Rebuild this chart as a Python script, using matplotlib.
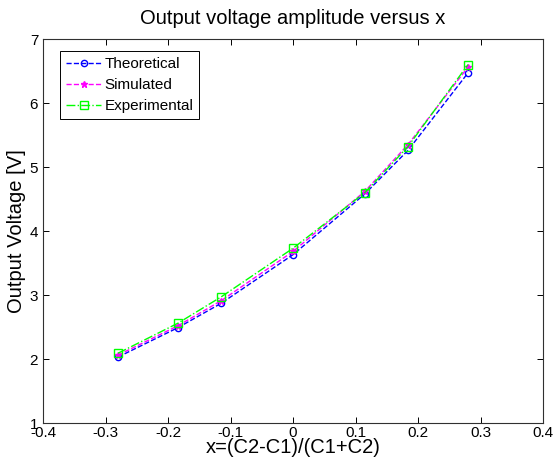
import matplotlib
matplotlib.use("Agg")
import matplotlib.pyplot as plt

# x = (C2-C1)/(C1+C2)
x_vals = [-0.28, -0.184, -0.115, 0.0, 0.115, 0.184, 0.28]
theoretical = [2.03, 2.49, 2.87, 3.63, 4.58, 5.26, 6.47]
simulated = [2.06, 2.52, 2.91, 3.68, 4.62, 5.35, 6.56]
experimental = [2.09, 2.56, 2.97, 3.73, 4.60, 5.32, 6.60]

x_ticks = [-0.4, -0.3, -0.2, -0.1, 0, 0.1, 0.2, 0.3, 0.4]
x_tick_labels = ["-0.4", "-0.3", "-0.2", "-0.1", "0", "0.1", "0.2", "0.3", "0.4"]
y_ticks = [1, 2, 3, 4, 5, 6, 7]

plt.rcParams['font.family'] = ['Liberation Sans', 'DejaVu Sans']

fig = plt.figure(figsize=(5.54, 4.65), dpi=100)
ax = fig.add_axes([43 / 554, 42 / 465, 500 / 554, 384 / 465])

ax.plot(x_vals, theoretical, color='#0000ff', linestyle='--', linewidth=1,
        marker='o', markersize=4.5, markerfacecolor='none', label='Theoretical')
ax.plot(x_vals, simulated, color='#ff00ff', linestyle='--', linewidth=1,
        marker='*', markersize=4.5, label='Simulated')
ax.plot(x_vals, experimental, color='#00ff00', linestyle='-.', linewidth=1,
        marker='s', markersize=5.5, markerfacecolor='none', label='Experimental')

ax.set_xlim(-0.4, 0.4)
ax.set_ylim(1, 7)
ax.set_xticks(x_ticks)
ax.set_xticklabels(x_tick_labels)
ax.set_yticks(y_ticks)
ax.tick_params(direction='in', top=True, right=True, labelsize=11, length=4, width=0.7)
ax.tick_params(axis='x', pad=2)
for sp in ax.spines.values():
    sp.set_linewidth(0.8)
    sp.set_color('#303030')

ax.set_title('Output voltage amplitude versus x', fontsize=14.5, pad=11)
ax.set_xlabel('x=(C2-C1)/(C1+C2)', fontsize=14.5, labelpad=-1)
ax.set_ylabel('Output Voltage [V]', fontsize=14.5)
ax.yaxis.set_label_coords(-0.034, 0.5)

leg = ax.legend(loc='upper left', bbox_to_anchor=(0.034, 0.968), fontsize=11,
                fancybox=False, framealpha=1, edgecolor='black',
                handlelength=2.3, handletextpad=0.2, borderpad=0.4,
                labelspacing=0.45, borderaxespad=0)
leg.get_frame().set_linewidth(0.7)

fig.savefig('out.png', dpi=100)
